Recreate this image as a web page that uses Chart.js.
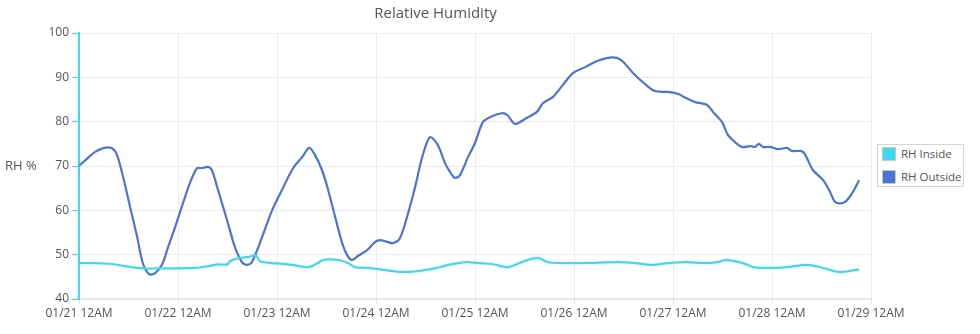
<!DOCTYPE html>
<html>
<head>
<meta charset="utf-8">
<title>Relative Humidity</title>
<script src="https://cdn.jsdelivr.net/npm/chart.js@4/dist/chart.umd.min.js"></script>
<style>
    html, body { margin: 0; padding: 0; background: #fff; }
    #wrap { position: relative; width: 980px; height: 334px; }
    #legend {
        position: absolute; left: 877px; top: 144px; width: 85px; height: 41px;
        border: 1px solid #d4d4d4; background: #fff;
        font: 11.5px "Open Sans", sans-serif; color: #555;
    }
    #legend .item { position: absolute; left: 4px; height: 14px; line-height: 14px; white-space: nowrap; }
    #legend .swatch {
        display: inline-block; width: 12px; height: 12px; border: 1px solid #c8c8c8;
        vertical-align: top; margin-right: 5px;
    }
</style>
</head>
<body>
<div id="wrap">
    <canvas id="rhChart" width="980" height="334"></canvas>
    <div id="legend"></div>
</div>
<script>
// hours since 01/21 12AM
const dayLabels = ['01/21 12AM', '01/22 12AM', '01/23 12AM', '01/24 12AM', '01/25 12AM',
    '01/26 12AM', '01/27 12AM', '01/28 12AM', '01/29 12AM'];
const yTicks = [40, 50, 60, 70, 80, 90, 100];

const insideHours = [0, 3.9, 8.0, 11.2, 15.3, 19.2, 23.3, 28.1, 31.3, 33.7, 35.9, 36.6, 38.5, 41.0, 42.9, 43.9,
    46.8, 48.7, 51.6, 55.5, 57.9, 59.2, 62.8, 65.2, 66.9, 70.1, 74.2, 78.3, 82.2, 86.3, 89.5, 94.1, 96.7,
    100.1, 104.0, 108.1, 111.3, 113.7, 117.1, 122.7, 130.7, 134.8, 138.9, 142.8, 147.4, 151.3, 154.9,
    156.6, 158.5, 160.9, 163.4, 167.5, 171.6, 176.5, 180.4, 184.4, 189.1];
const insideRH = [48.1, 48.1, 47.9, 47.4, 46.9, 46.9, 46.9, 47.0, 47.4, 47.8, 47.8, 48.5, 49.2, 49.5, 49.8, 48.5,
    48.1, 48.0, 47.7, 47.2, 48.1, 48.8, 48.8, 48.1, 47.2, 47.0, 46.5, 46.1, 46.3, 46.9, 47.7, 48.3, 48.1,
    47.9, 47.2, 48.6, 49.2, 48.3, 48.1, 48.1, 48.3, 48.1, 47.7, 48.1, 48.3, 48.1, 48.3,
    48.8, 48.6, 48.1, 47.2, 47.0, 47.2, 47.7, 47.0, 46.1, 46.7];

const outsideHours = [0, 1.9, 3.9, 6.1, 8.0, 9.2, 10.7, 12.4, 14.1, 15.5, 17.0, 18.4, 20.1, 21.6, 23.3,
    25.2, 26.9, 28.6, 29.8, 31.3, 32.2, 33.7, 36.1, 37.8, 39.5, 40.7, 41.9, 44.4, 46.8, 49.2, 51.9, 54.1,
    55.8, 57.2, 58.9, 60.4, 62.1, 63.8, 65.0, 66.2, 67.6, 69.8, 71.8, 73.0, 74.7, 76.1, 77.8, 79.8, 81.5,
    83.2, 85.1, 87.0, 88.7, 90.4, 91.2, 92.4, 94.3, 96.0, 97.9, 99.6, 102.5, 103.8, 105.7, 108.1, 111.0,
    112.5, 114.9, 117.3, 119.8, 122.7, 125.6, 128.2, 130.4, 131.9, 134.3, 137.2, 139.6, 142.8, 145.5,
    146.5, 149.4, 152.2, 153.7, 155.9, 157.3, 159.0, 160.7, 162.7, 163.9, 164.8, 165.8, 167.5, 169.5,
    171.6, 172.8, 175.5, 177.9, 180.4, 182.1, 183.3, 185.0, 186.2, 187.6, 189.1];
const outsideRH = [70.0, 71.6, 73.2, 74.1, 74.0, 72.5, 67.5, 60.7, 54.0, 48.0, 45.6, 45.8, 47.7, 51.7, 56.2,
    61.6, 66.2, 69.5, 69.5, 69.8, 69.1, 64.6, 57.1, 51.7, 48.3, 47.7, 48.3, 54.0, 60.0, 64.6, 69.5, 72.0,
    74.1, 72.5, 69.1, 64.6, 58.5, 52.6, 49.9, 48.8, 49.7, 51.0, 52.9, 53.3, 52.9, 52.6, 53.7, 59.4, 65.3,
    72.0, 76.5, 74.7, 70.7, 68.0, 67.3, 68.0, 72.0, 75.2, 79.9, 81.0, 81.9, 81.5, 79.5, 80.6, 82.2,
    84.2, 85.6, 88.3, 91.0, 92.3, 93.7, 94.4, 94.4, 93.5, 91.0, 88.5, 86.9, 86.7, 86.2,
    85.6, 84.4, 83.8, 82.2, 79.9, 77.0, 75.4, 74.3, 74.5, 74.3, 75.0, 74.3, 74.3, 73.8,
    74.1, 73.4, 73.2, 69.1, 66.8, 64.1, 61.9, 61.6, 62.3, 64.1, 66.8];

const insideColor = '#3fd8f2';
const outsideColor = '#4b74d4';
const font = '"Open Sans", sans-serif';

const toPoints = (xs, ys) => xs.map((x, i) => ({ x, y: ys[i] }));

// horizontal "RH %" label left of the y axis
const axisLabel = {
    id: 'axisLabel',
    afterDraw(chart) {
        const ctx = chart.ctx;
        const area = chart.chartArea;
        ctx.save();
        ctx.font = '13px ' + font;
        ctx.fillStyle = '#555';
        ctx.textAlign = 'left';
        ctx.textBaseline = 'middle';
        ctx.fillText('RH %', 5, (area.top + area.bottom) / 2);
        ctx.restore();
    }
};

const chart = new Chart(document.getElementById('rhChart'), {
    type: 'line',
    data: {
        datasets: [{
            label: 'RH Inside',
            data: toPoints(insideHours, insideRH),
            borderColor: insideColor,
            backgroundColor: insideColor,
            borderWidth: 2.2,
            pointRadius: 0,
            tension: 0.3
        }, {
            label: 'RH Outside',
            data: toPoints(outsideHours, outsideRH),
            borderColor: outsideColor,
            backgroundColor: outsideColor,
            borderWidth: 2.2,
            pointRadius: 0,
            tension: 0.3
        }]
    },
    options: {
        responsive: false,
        animation: false,
        layout: { padding: { left: 0, right: 109, top: 0, bottom: 0 } },
        plugins: {
            legend: { display: false },
            tooltip: { enabled: false },
            title: {
                display: true,
                text: 'Relative Humidity',
                color: '#555',
                font: { family: font, size: 15, weight: 'normal' },
                padding: { top: 5, bottom: 10 }
            }
        },
        scales: {
            x: {
                type: 'linear',
                min: 0,
                max: 192,
                afterBuildTicks: scale => {
                    scale.ticks = dayLabels.map((_, i) => ({ value: i * 24 }));
                },
                afterFit: scale => { scale.height = 35; },
                ticks: {
                    color: '#555',
                    font: { family: font, size: 12 },
                    maxRotation: 0,
                    padding: 2,
                    callback: value => dayLabels[value / 24]
                },
                grid: { color: '#ebebeb', tickColor: '#e3e3e3', tickLength: 5 },
                border: { color: '#e6e6e6', width: 2 }
            },
            y: {
                min: 40,
                max: 100,
                afterBuildTicks: scale => {
                    scale.ticks = yTicks.map(v => ({ value: v }));
                },
                afterFit: scale => { scale.width = 79; },
                ticks: {
                    color: '#555',
                    font: { family: font, size: 12 },
                    padding: 3
                },
                grid: { color: '#ebebeb', tickColor: insideColor, tickLength: 7 },
                border: { color: insideColor, width: 2 }
            }
        }
    },
    plugins: [axisLabel]
});

// legend box on the right
const legendBox = document.getElementById('legend');
chart.data.datasets.forEach((ds, i) => {
    const item = document.createElement('div');
    item.className = 'item';
    item.style.top = (i === 0 ? 2 : 25) + 'px';
    item.innerHTML = `<span class="swatch" style="background:${ds.borderColor}"></span>${ds.label}`;
    legendBox.appendChild(item);
});
</script>
</body>
</html>
